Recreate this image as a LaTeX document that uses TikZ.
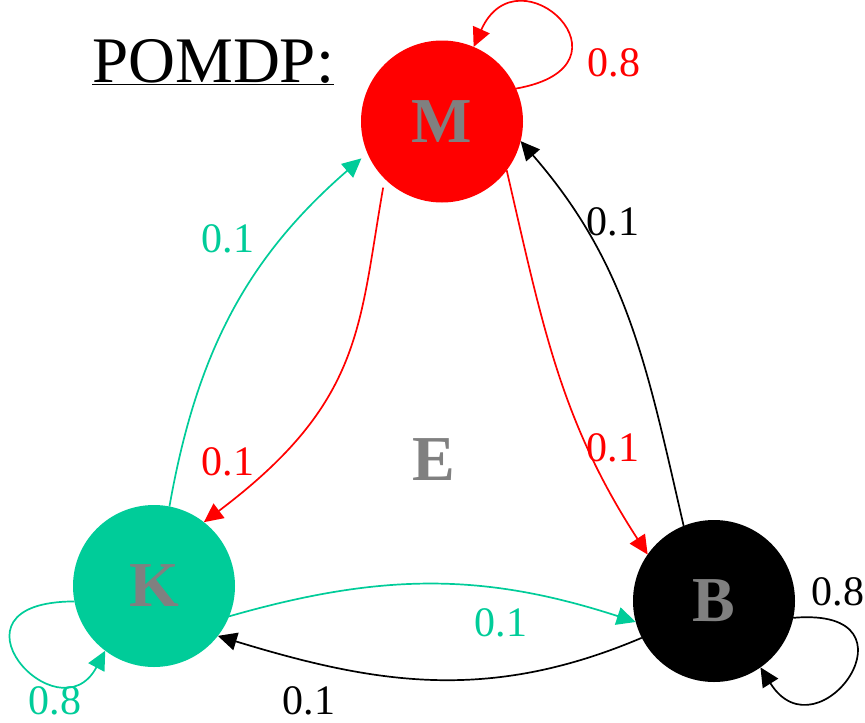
\documentclass[tikz,border=0pt]{standalone}
\usepackage{fontspec}
\setmainfont{Liberation Serif}
\usetikzlibrary{arrows.meta}
\definecolor{pgreen}{RGB}{0,204,153}
\definecolor{pgray}{RGB}{128,128,128}

\begin{document}
\begin{tikzpicture}[x=1pt,y=1pt,
    state/.style={circle,minimum size=162pt,inner sep=0pt,outer sep=0pt,
      font=\fontsize{64}{64}\selectfont\bfseries,text=pgray},
    prob/.style={inner sep=0pt,font=\fontsize{42}{42}\selectfont},
    edge/.style={line width=1.7pt,-{Triangle[length=19pt,width=18pt]}}]
      \useasboundingbox (0,0) rectangle (865,-723);
      % Title
      \node[anchor=base west,inner sep=0pt,font=\fontsize{65}{65}\selectfont] (title) at (92,-82) {\underline{POMDP:}};
      % States
      \node[state,fill=red]    (M) at (442,-121.5) {M};
      \node[state,fill=pgreen] (K) at (154,-586) {K};
      \node[state,fill=black]  (B) at (714,-601) {B};
      \node[inner sep=0pt,font=\fontsize{64}{64}\selectfont\bfseries,text=pgray] (E) at (434,-460) {E};
      % Self loops
      \draw[edge,red]    (M.24)  to[out=10,in=66,out distance=130pt,in distance=110pt] (M.67);
      \draw[edge,pgreen] (K.191) to[out=180,in=242,out distance=140pt,in distance=100pt] (K.233);
      \draw[edge,black]  (B.-12) to[out=5,in=-58,out distance=135pt,in distance=110pt] (B.-55);
      % Transitions
      \draw[edge,pgreen,shorten >=8pt] (K.79) to[out=80,in=221] (M.203);
      \draw[edge,red,shorten <=9pt] (M.225) to[out=260,in=37,out distance=150pt,in distance=200pt] (K.52);
      \draw[edge,red]    (M.-37) to[out=283,in=123] (B.145);
      \draw[edge,black]  (B.112) to[out=103,in=-49] (M.-14);
      \draw[edge,pgreen] (K.-22) to[out=16,in=162] (B.195);
      \draw[edge,black]  (B.207) to[out=203,in=-17] (K.-38.5);
      % Probabilities
      \node[prob,red]    (pMM) at (614,-63) {0.8};
      \node[prob,pgreen] (pKK) at (55,-701) {0.8};
      \node[prob,black]  (pBB) at (838,-592) {0.8};
      \node[prob,pgreen] (pKM) at (228,-239) {0.1};
      \node[prob,red]    (pMK) at (228,-462) {0.1};
      \node[prob,black]  (pBM) at (613,-222) {0.1};
      \node[prob,red]    (pMB) at (613,-448) {0.1};
      \node[prob,pgreen] (pKB) at (501,-623) {0.1};
      \node[prob,black]  (pBK) at (309,-701) {0.1};
    \end{tikzpicture}
\end{document}
